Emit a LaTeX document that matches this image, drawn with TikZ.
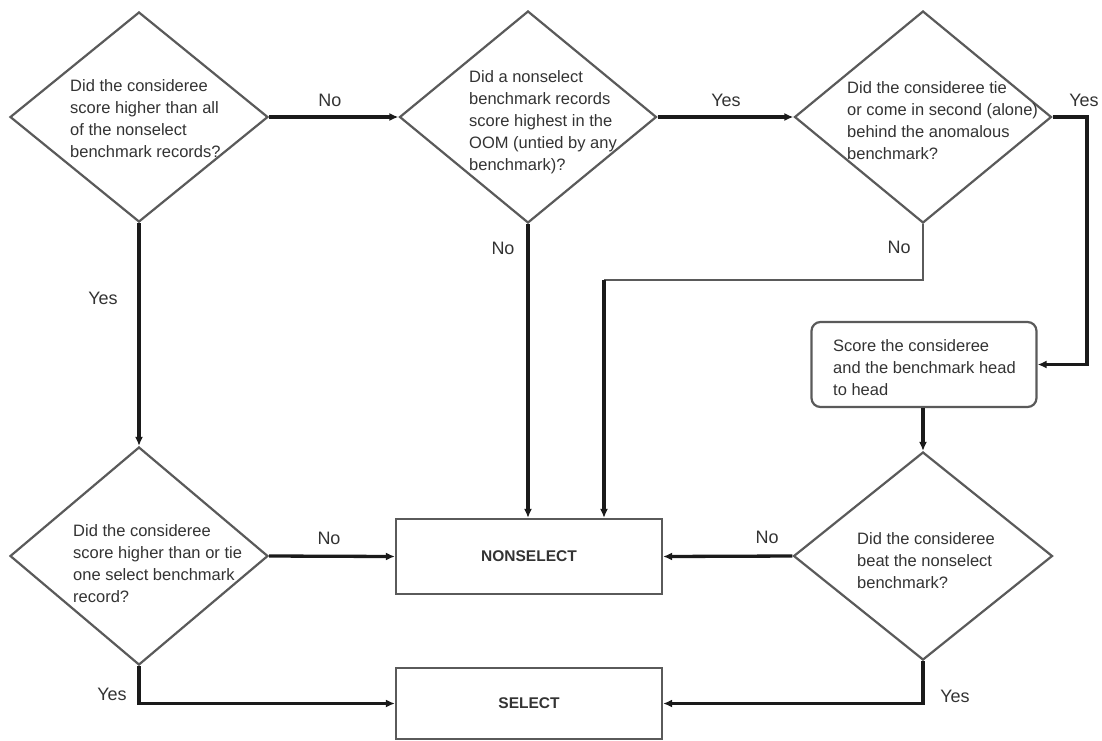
\documentclass[tikz,border=0pt]{standalone}
\usepackage{fontspec}
\setmainfont{Liberation Sans}
\usetikzlibrary{shapes.geometric,arrows.meta}
\definecolor{edgegray}{HTML}{5A5A5A}
\definecolor{txtgray}{HTML}{333333}
\definecolor{conn}{HTML}{1A1A1A}
\tikzset{
  decision/.style={shape=diamond, draw=edgegray, line width=2.2pt, inner sep=0pt, fill=white},
  qtext/.style={anchor=north west, inner sep=0pt, align=left, text=txtgray,
    font=\fontsize{16.5}{22}\selectfont},
  outbox/.style={draw=edgegray, line width=2.2pt, inner sep=0pt, text=txtgray,
    font=\fontsize{15.5}{18}\selectfont\bfseries},
  lbl/.style={text=txtgray, inner sep=0pt, font=\fontsize{18}{20}\selectfont},
  flow/.style={draw=conn, line width=3.3pt, -{Latex[length=9pt,width=8pt]}},
  thinflow/.style={draw=edgegray, line width=2.2pt},
}
\begin{document}
\begin{tikzpicture}[x=1pt,y=-1pt]
\useasboundingbox (0,0) rectangle (1102,740);
% decisions
\node[decision, minimum width=258pt, minimum height=210pt] (d1) at (139,117) {};
\node[decision, minimum width=257pt, minimum height=212pt] (d2) at (528,117) {};
\node[decision, minimum width=257pt, minimum height=212pt] (d3) at (923,117) {};
\node[decision, minimum width=258pt, minimum height=218pt] (d4) at (139,556) {};
\node[decision, minimum width=259pt, minimum height=208pt] (d5) at (923,556) {};
% boxes
\node[draw=edgegray, line width=2.2pt, rounded corners=9pt, minimum width=225pt, minimum height=85pt, inner sep=0pt] (score) at (924,364.5) {};
\node[outbox, minimum width=266pt, minimum height=75pt] (nonsel) at (529,556.5) {NONSELECT};
\node[outbox, minimum width=266pt, minimum height=71pt] (sel) at (529,703.5) {SELECT};
% texts
\node[qtext] (t1) at (70,79) {Did the consideree\\score higher than all\\of the nonselect\\benchmark records?};
\node[qtext] (t2) at (469,70) {Did a nonselect\\benchmark records\\score highest in the\\OOM (untied by any\\benchmark)?};
\node[qtext] (t3) at (847,81) {Did the consideree tie\\or come in second (alone)\\behind the anomalous\\benchmark?};
\node[qtext] (t4) at (833,339) {Score the consideree\\and the benchmark head\\to head};
\node[qtext] (t5) at (73,524) {Did the consideree\\score higher than or tie\\one select benchmark\\record?};
\node[qtext] (t6) at (857,532) {Did the consideree\\beat the nonselect\\benchmark?};
% helper coordinates
\coordinate (c1) at (1087,117);
\coordinate (c3) at (604,280);
% connectors
\draw[flow] (d1.east) -- (d2.west);
\draw[flow] (d2.east) -- (d3.west);
\draw[flow] (d3.east) -- (c1) |- (score.east);
\draw[flow] (d2.south) -- (d2.south |- nonsel.north);
\draw[thinflow] (d3.south) |- (c3);
\draw[flow] (c3) -- (c3 |- nonsel.north);
\draw[flow] (d1.south) -- (d4.north);
\draw[flow] (d4.east) -- (nonsel.west);
\draw[flow] (d4.south) |- (sel.west);
\draw[flow] (score.south -| d5.north) -- (d5.north);
\draw[flow] (d5.west) -- (nonsel.east);
\draw[flow] (d5.south) |- (sel.east);
% labels
\node[lbl] (l1) at (330,100) {No};
\node[lbl] (l2) at (726,100) {Yes};
\node[lbl] (l3) at (1084,100) {Yes};
\node[lbl] (l4) at (503,248) {No};
\node[lbl] (l5) at (899,247) {No};
\node[lbl] (l6) at (103,298) {Yes};
\node[lbl] (l7) at (329,538) {No};
\node[lbl] (l8) at (112,694) {Yes};
\node[lbl] (l9) at (767,537) {No};
\node[lbl] (l10) at (955,696) {Yes};
\end{tikzpicture}
\end{document}
